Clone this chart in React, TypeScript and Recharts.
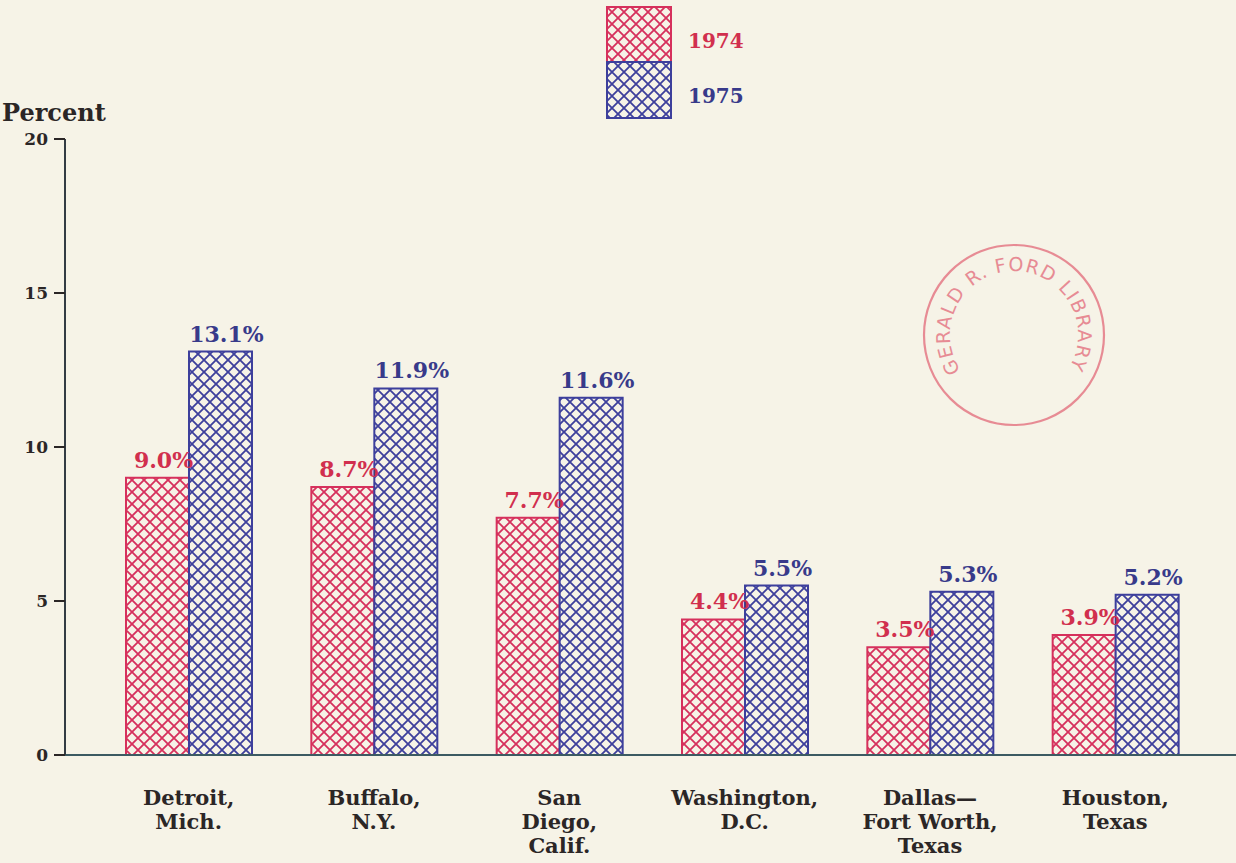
import React from "react";
import { Bar, BarChart, LabelList, XAxis, YAxis } from "recharts";

const cities = [
  "Detroit,\nMich.",
  "Buffalo,\nN.Y.",
  "San\nDiego,\nCalif.",
  "Washington,\nD.C.",
  "Dallas—\nFort Worth,\nTexas",
  "Houston,\nTexas",
];
const rate1974 = [9.0, 8.7, 7.7, 4.4, 3.5, 3.9];
const rate1975 = [13.1, 11.9, 11.6, 5.5, 5.3, 5.2];
const yTicks = [0, 5, 10, 15, 20];

const data = cities.map((city, i) => ({ city, y1974: rate1974[i], y1975: rate1975[i] }));

const BG = "#f6f3e7";
const RED = "#d6305c";
const BLUE = "#3d3f9c";
const RED_TEXT = "#d12f4e";
const BLUE_TEXT = "#383a8a";
const INK = "#2b2626";
const FONT = "'DejaVu Serif', serif";

function Hatch({ id, color }: { id: string; color: string }) {
  return (
    <pattern id={id} patternUnits="userSpaceOnUse" width={12} height={12}>
      <rect width={12} height={12} fill={BG} />
      <path d="M0,0 L12,12 M12,0 L0,12" stroke={color} strokeWidth={1.8} />
    </pattern>
  );
}

function CityTick({ x, y, payload }: any) {
  const lines = String(payload.value).split("\n");
  return (
    <g>
      {lines.map((line, i) => (
        <text
          key={i}
          x={x}
          y={y + 50 + i * 24}
          textAnchor="middle"
          fontFamily={FONT}
          fontWeight="bold"
          fontSize={21}
          fill={INK}
        >
          {line}
        </text>
      ))}
    </g>
  );
}

const pct = (v: any) => `${Number(v).toFixed(1)}%`;

function Legend() {
  return (
    <div style={{ position: "absolute", left: 606, top: 6 }}>
      <svg width={160} height={116}>
        <defs>
          <Hatch id="legRed" color={RED} />
          <Hatch id="legBlue" color={BLUE} />
        </defs>
        <rect x={1} y={1} width={64} height={55} fill="url(#legRed)" stroke={RED} strokeWidth={2} />
        <rect x={1} y={56} width={64} height={56} fill="url(#legBlue)" stroke={BLUE} strokeWidth={2} />
        <text x={82} y={42} fontFamily={FONT} fontWeight="bold" fontSize={20} fill={RED_TEXT}>
          1974
        </text>
        <text x={82} y={97} fontFamily={FONT} fontWeight="bold" fontSize={20} fill={BLUE_TEXT}>
          1975
        </text>
      </svg>
    </div>
  );
}

// archive stamp on the scanned page
function Stamp() {
  const cx = 100;
  const cy = 100;
  const r = 64;
  const a0 = (-133 * Math.PI) / 180;
  const a1 = (129 * Math.PI) / 180;
  const p0 = [cx + r * Math.sin(a0), cy - r * Math.cos(a0)];
  const p1 = [cx + r * Math.sin(a1), cy - r * Math.cos(a1)];
  return (
    <div style={{ position: "absolute", left: 914, top: 235, opacity: 0.85 }}>
      <svg width={200} height={200}>
        <defs>
          <path id="stampArc" d={`M${p0[0]},${p0[1]} A${r},${r} 0 1 1 ${p1[0]},${p1[1]}`} />
        </defs>
        <circle cx={cx} cy={cy} r={90} fill="none" stroke="#e57a86" strokeWidth={2.2} />
        <text fontFamily="'DejaVu Sans', sans-serif" fontSize={19} fill="#e57a86">
          <textPath href="#stampArc" startOffset="50%" textAnchor="middle" textLength={272} lengthAdjust="spacing">
            GERALD R. FORD LIBRARY
          </textPath>
        </text>
      </svg>
    </div>
  );
}

export default function App() {
  return (
    <div style={{ position: "absolute", left: 0, top: 0, width: 1236, height: 863, background: BG, overflow: "hidden" }}>
      <BarChart
        width={1236}
        height={863}
        data={data}
        margin={{ top: 139, right: 0, bottom: 0, left: 0 }}
        barGap={0}
        barSize={63}
      >
        <defs>
          <Hatch id="hatchRed" color={RED} />
          <Hatch id="hatchBlue" color={BLUE} />
        </defs>
        <XAxis
          dataKey="city"
          height={108}
          padding={{ left: 31, right: 28 }}
          tickLine={false}
          tickSize={0}
          tickMargin={0}
          interval={0}
          axisLine={{ stroke: "#3c5a62", strokeWidth: 2 }}
          tick={<CityTick />}
        />
        <YAxis
          width={65}
          domain={[0, 20]}
          ticks={yTicks}
          interval={0}
          tickSize={11}
          tickMargin={6}
          axisLine={{ stroke: "#333c44", strokeWidth: 2 }}
          tickLine={{ stroke: INK, strokeWidth: 2 }}
          tick={{ fontFamily: FONT, fontWeight: "bold", fontSize: 17, fill: INK }}
          label={{
            content: () => (
              <text x={2} y={121} fontFamily={FONT} fontWeight="bold" fontSize={24} fill={INK}>
                Percent
              </text>
            ),
          }}
        />
        <Bar dataKey="y1974" fill="url(#hatchRed)" stroke={RED} strokeWidth={2} isAnimationActive={false}>
          <LabelList
            dataKey="y1974"
            position="top"
            offset={10}
            dx={6}
            formatter={pct}
            fontFamily={FONT}
            fontWeight="bold"
            fontSize={22}
            fill={RED_TEXT}
          />
        </Bar>
        <Bar dataKey="y1975" fill="url(#hatchBlue)" stroke={BLUE} strokeWidth={2} isAnimationActive={false}>
          <LabelList
            dataKey="y1975"
            position="top"
            offset={10}
            dx={6}
            formatter={pct}
            fontFamily={FONT}
            fontWeight="bold"
            fontSize={22}
            fill={BLUE_TEXT}
          />
        </Bar>
      </BarChart>
      <Legend />
      <Stamp />
    </div>
  );
}
